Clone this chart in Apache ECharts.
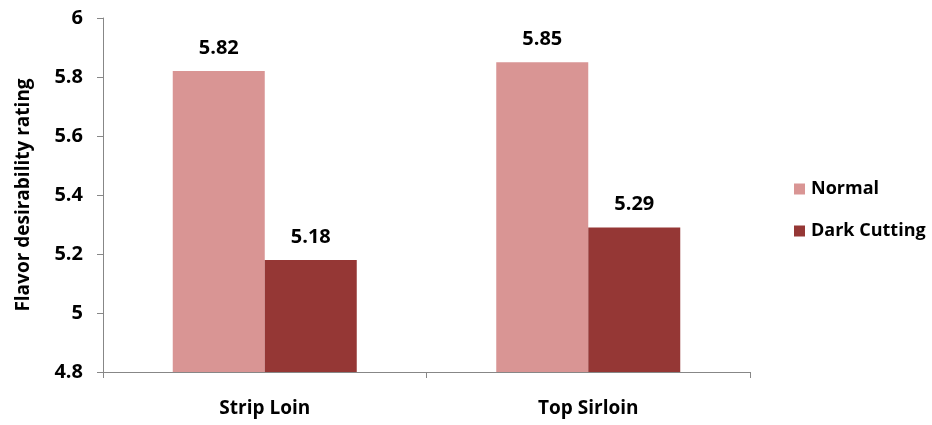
<!DOCTYPE html>
<html>
<head>
<meta charset="utf-8">
<script src="https://cdn.jsdelivr.net/npm/echarts@6/dist/echarts.min.js"></script>
<style>
  html, body { margin: 0; padding: 0; background: #fff; }
  #chart { width: 932px; height: 425px; }
</style>
</head>
<body>
<div id="chart"></div>
<script>
// Flavor desirability by cut and carcass type
const categories = ['Strip Loin', 'Top Sirloin'];
const normalValues = [5.82, 5.85];
const darkCuttingValues = [5.18, 5.29];
const yTicks = { min: 4.8, max: 6, interval: 0.2 };

const FONT = '"Open Sans", "Noto Sans", sans-serif';
const AXIS_GREY = '#878787';

const chart = echarts.init(document.getElementById('chart'));

const labelStyle = {
  show: true,
  position: 'top',
  distance: 13,
  color: '#000',
  fontFamily: FONT,
  fontWeight: 'bold',
  fontSize: 20,
  formatter: p => p.value.toFixed(2)
};

chart.setOption({
  animation: false,
  grid: { left: 103, top: 18, right: 182, bottom: 53, containLabel: false, outerBoundsMode: 'none' },
  legend: {
    orient: 'vertical',
    left: 789,
    top: 174,
    itemWidth: 11,
    itemHeight: 11,
    itemGap: 22,
    icon: 'rect',
    textStyle: { fontFamily: FONT, fontWeight: 'bold', fontSize: 18, lineHeight: 20, color: '#000', padding: [0, 0, 0, 1] },
    data: ['Normal', 'Dark Cutting']
  },
  xAxis: {
    type: 'category',
    data: categories,
    axisLine: { lineStyle: { color: AXIS_GREY, width: 1 } },
    axisTick: { show: true, length: 6, lineStyle: { color: AXIS_GREY } },
    axisLabel: { color: '#000', fontFamily: FONT, fontWeight: 'bold', fontSize: 19, margin: 27 }
  },
  yAxis: {
    type: 'value',
    min: yTicks.min,
    max: yTicks.max,
    interval: yTicks.interval,
    name: 'Flavor desirability rating',
    nameLocation: 'middle',
    nameGap: 70,
    nameTextStyle: { color: '#000', fontFamily: FONT, fontWeight: 'bold', fontSize: 19 },
    axisLine: { show: true, lineStyle: { color: AXIS_GREY, width: 1 } },
    axisTick: { show: true, length: 6, lineStyle: { color: AXIS_GREY } },
    splitLine: { show: false },
    axisLabel: {
      color: '#000', fontFamily: FONT, fontWeight: 'bold', fontSize: 20, margin: 20,
      formatter: v => String(Math.round(v * 10) / 10)
    }
  },
  series: [
    {
      name: 'Normal',
      type: 'bar',
      data: normalValues,
      barWidth: 92,
      barGap: '0%',
      itemStyle: { color: '#D99594' },
      label: labelStyle
    },
    {
      name: 'Dark Cutting',
      type: 'bar',
      data: darkCuttingValues,
      barWidth: 92,
      barGap: '0%',
      itemStyle: { color: '#953735' },
      label: labelStyle
    }
  ]
});
</script>
</body>
</html>
